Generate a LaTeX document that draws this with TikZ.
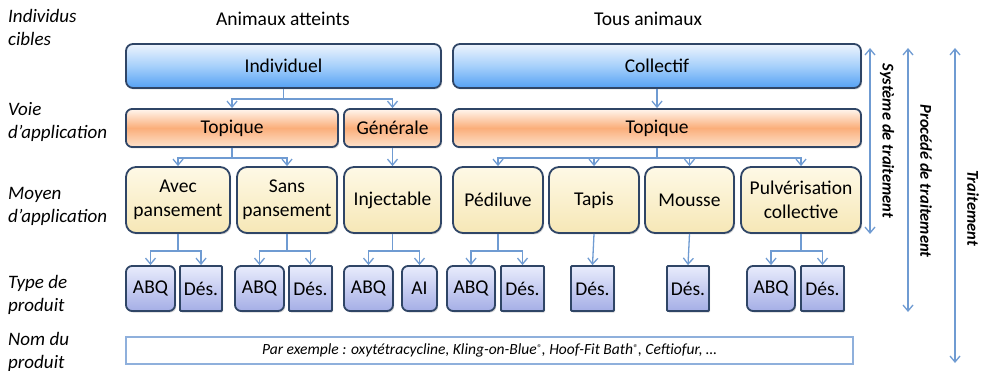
\documentclass[tikz,border=0pt]{standalone}
\usepackage{fontspec}
\setmainfont{Carlito}
\usetikzlibrary{arrows.meta,shadows}

\definecolor{boxline}{HTML}{2F4566}
\definecolor{connc}{HTML}{6F9BD2}
\definecolor{blueA}{HTML}{EEF4FD}
\definecolor{blueB}{HTML}{A6D0FB}
\definecolor{blueC}{HTML}{55A1F4}
\definecolor{oraA}{HTML}{FFF6EE}
\definecolor{oraB}{HTML}{FBAE7A}
\definecolor{oraC}{HTML}{FDE2CC}
\definecolor{creA}{HTML}{FEF9E6}
\definecolor{creB}{HTML}{F6E7B6}
\definecolor{lavA}{HTML}{E8ECFC}
\definecolor{lavB}{HTML}{A5AEE6}
\definecolor{nomline}{HTML}{8FB0DC}

\tikzset{
  box/.style={draw=boxline, line width=1.8pt, inner sep=0pt, align=center,
    font=\fontsize{19.5}{24}\selectfont,
    drop shadow={shadow xshift=1.2pt, shadow yshift=-1.5pt, opacity=0.35}},
  cible/.style={box, rounded corners=7pt, top color=blueA, bottom color=blueC, middle color=blueB},
  voie/.style={box, rounded corners=6pt, top color=oraA, bottom color=oraC, middle color=oraB},
  moyen/.style={box, rounded corners=10pt, top color=creA, bottom color=creB},
  prodr/.style={box, rounded corners=6pt, top color=lavA, bottom color=lavB},
  prods/.style={box, rounded corners=1pt, top color=lavA, bottom color=lavB},
  conn/.style={draw=connc, line width=1.3pt, -{Straight Barb[length=6pt,width=10pt]}},
  span/.style={draw=connc, line width=1.3pt, {Straight Barb[length=6pt,width=10pt]}-{Straight Barb[length=6pt,width=10pt]}},
  rowlabel/.style={anchor=west, align=left, inner sep=0pt, font=\fontsize{19}{23}\selectfont\itshape},
  title/.style={font=\fontsize{19.5}{22}\selectfont, inner sep=0pt},
  spanlabel/.style={rotate=-90, inner sep=0pt, font=\fontsize{16.5}{20}\selectfont\bfseries\itshape}
}

\begin{document}
\begin{tikzpicture}[x=1pt,y=-1pt]
\useasboundingbox (0,0) rectangle (982,371);

% row labels
\node[rowlabel] (l1) at (8,27) {Individus\\cibles};
\node[rowlabel] (l2) at (8,121.5) {Voie\\d’application};
\node[rowlabel] (l3) at (8,206.5) {Moyen\\d’application};
\node[rowlabel] (l4) at (8,295) {Type de\\produit};
\node[rowlabel] (l5) at (8,351.5) {Nom du\\produit};

% column titles
\node[title] (t1) at (283,19) {Animaux atteints};
\node[title] (t2) at (648,19) {Tous animaux};

% targets
\node[cible, minimum width=315pt, minimum height=44pt] (indiv) at (283.5,66) {Individuel};
\node[cible, minimum width=408pt, minimum height=44pt] (coll) at (657,66) {Collectif};

% application routes
\node[voie, minimum width=212pt, minimum height=38pt] (topL) at (232,128) {Topique};
\node[voie, minimum width=97pt, minimum height=38pt] (gen) at (392.5,128) {Générale};
\node[voie, minimum width=408pt, minimum height=38pt] (topR) at (657,128) {Topique};

% application means
\node[moyen, minimum width=104pt, minimum height=66pt] (avec) at (178,200) {Avec\\pansement};
\node[moyen, minimum width=100pt, minimum height=66pt] (sans) at (287,200) {Sans\\pansement};
\node[moyen, minimum width=97pt, minimum height=66pt] (inj) at (392.5,200) {Injectable};
\node[moyen, minimum width=90pt, minimum height=66pt] (ped) at (498,200) {Pédiluve};
\node[moyen, minimum width=90pt, minimum height=66pt] (tapis) at (594,200) {Tapis};
\node[moyen, minimum width=89pt, minimum height=66pt] (mousse) at (689.5,200) {Mousse};
\node[moyen, minimum width=120pt, minimum height=66pt] (pulv) at (801,200) {Pulvérisation\\collective};

% product types
\node[prodr, minimum width=49pt, minimum height=45pt] (abq1) at (150.5,288.5) {ABQ};
\node[prods, minimum width=42pt, minimum height=45pt] (des1) at (201,288.5) {Dés.};
\node[prodr, minimum width=49pt, minimum height=45pt] (abq2) at (259.5,288.5) {ABQ};
\node[prods, minimum width=43pt, minimum height=45pt] (des2) at (310.5,288.5) {Dés.};
\node[prodr, minimum width=49pt, minimum height=45pt] (abq3) at (368.5,288.5) {ABQ};
\node[prodr, minimum width=35pt, minimum height=45pt] (ai) at (419.5,288.5) {AI};
\node[prodr, minimum width=48pt, minimum height=45pt] (abq4) at (471,288.5) {ABQ};
\node[prods, minimum width=43pt, minimum height=45pt] (des4) at (522.5,288.5) {Dés.};
\node[prods, minimum width=43pt, minimum height=45pt] (des5) at (592.5,288.5) {Dés.};
\node[prods, minimum width=42pt, minimum height=45pt] (des6) at (688,288.5) {Dés.};
\node[prodr, minimum width=48pt, minimum height=45pt] (abq7) at (771,288.5) {ABQ};
\node[prods, minimum width=43pt, minimum height=45pt] (des7) at (822.5,288.5) {Dés.};

% product names
\node[draw=nomline, line width=1.3pt, fill=white, minimum width=727pt, minimum height=27pt, inner sep=0pt,
  font=\fontsize{15.5}{18}\selectfont\itshape] (nom) at (489.5,350.5)
  {Par exemple : oxytétracycline, Kling-on-Blue\raisebox{0.45ex}{\fontsize{10}{10}\selectfont ®}, Hoof-Fit Bath\raisebox{0.45ex}{\fontsize{10}{10}\selectfont ®}, Ceftiofur, …};

% connectors: targets -> routes
\draw[conn] (indiv.south) -- ++(0,10) -| (topL.north);
\draw[conn] (indiv.south) -- ++(0,10) -| (gen.north);
\draw[conn] (coll.south) -- (topR.north);

% connectors: routes -> means
\draw[conn] (topL.south) -- ++(0,10) -| (avec.north);
\draw[conn] (topL.south) -- ++(0,10) -| (sans.north);
\draw[conn] (gen.south) -- (inj.north);
\foreach \m in {ped,tapis,mousse,pulv}
  \draw[conn] (topR.south) -- ++(0,10) -| (\m.north);

% connectors: means -> product types
\draw[conn] (avec.south) -- ++(0,17) -| (abq1.north);
\draw[conn] (avec.south) -- ++(0,17) -| (des1.north);
\draw[conn] (sans.south) -- ++(0,17) -| (abq2.north);
\draw[conn] (sans.south) -- ++(0,17) -| (des2.north);
\draw[conn] (inj.south) -- ++(0,17) -| (abq3.north);
\draw[conn] (inj.south) -- ++(0,17) -| (ai.north);
\draw[conn] (ped.south) -- ++(0,17) -| (abq4.north);
\draw[conn] (ped.south) -- ++(0,17) -| (des4.north);
\draw[conn] (tapis.south) -- (des5.north);
\draw[conn] (mousse.south) -- (des6.north);
\draw[conn] (pulv.south) -- ++(0,17) -| (abq7.north);
\draw[conn] (pulv.south) -- ++(0,17) -| (des7.north);

% scope arrows on the right
\coordinate (s1a) at (870,48);  \coordinate (s1b) at (870,234);
\coordinate (s2a) at (908,48);  \coordinate (s2b) at (908,312);
\coordinate (s3a) at (955,48);  \coordinate (s3b) at (955,363);
\draw[span] (s1a) -- (s1b);
\draw[span] (s2a) -- (s2b);
\draw[span] (s3a) -- (s3b);
\node[spanlabel] (sys) at (887,141) {Système de traitement};
\node[spanlabel] (proc) at (926,181) {Procédé de traitement};
\node[spanlabel] (trt) at (973,208) {Traitement};
\end{tikzpicture}
\end{document}
